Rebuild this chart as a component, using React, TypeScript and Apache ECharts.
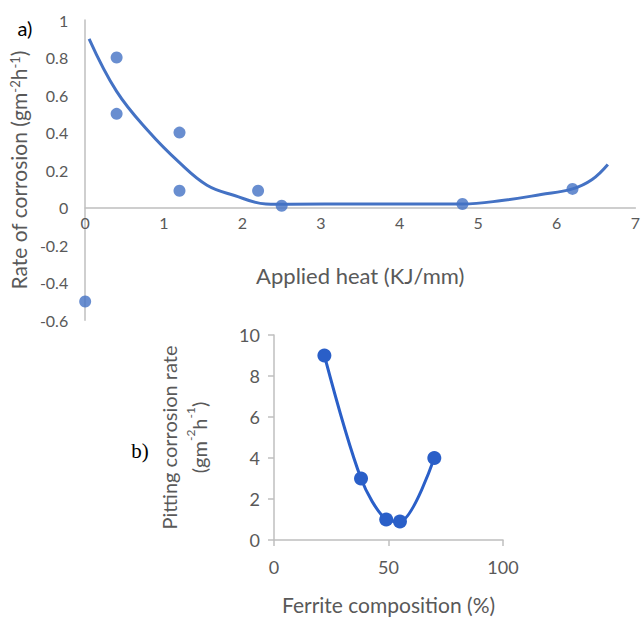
import React, { useEffect, useRef } from "react";
import * as echarts from "echarts";

// Chart a) measured points
const heatPoints: number[][] = [
  [0, -0.5],
  [0.4, 0.8],
  [0.4, 0.5],
  [1.2, 0.4],
  [1.2, 0.09],
  [2.2, 0.09],
  [2.5, 0.01],
  [4.8, 0.02],
  [6.2, 0.1],
];
// Chart a) fitted trend curve (read from picture)
const heatCurve: number[][] = [
  [0.05, 0.9],
  [0.4, 0.62],
  [0.8, 0.41],
  [1.2, 0.24],
  [1.55, 0.12],
  [1.9, 0.065],
  [2.3, 0.02],
  [2.6, 0.018],
  [3.5, 0.02],
  [4.8, 0.02],
  [5.3, 0.038],
  [5.8, 0.07],
  [6.2, 0.1],
  [6.45, 0.15],
  [6.65, 0.23],
];
// Chart b)
const ferrite: number[] = [22, 38, 49, 55, 70];
const pitting: number[] = [9, 3, 1, 0.9, 4];

const FONT = "Lato";
const GREY = "#595959";
const AXIS = "#bfbfbf";

const TOP_H = 300.3;
const Y_MIN = -0.6;
const Y_MAX = 1;

export default function App() {
  const ref = useRef<HTMLDivElement>(null);
  useEffect(() => {
    const chart = echarts.init(ref.current!, null, { renderer: "svg" });
    const sup = { fontSize: 13, lineHeight: 13, verticalAlign: "top", color: GREY, fontFamily: FONT };
    // shift the x axis of chart a) up to the y = 0 line
    const zeroOffset = -(TOP_H * (0 - Y_MIN)) / (Y_MAX - Y_MIN);
    chart.setOption({
      animation: false,
      textStyle: { fontFamily: FONT },
      grid: [
        { left: 85, top: 20, width: 554, height: TOP_H },
        { left: 274, top: 335, width: 229, height: 205 },
      ],
      xAxis: [
        {
          gridIndex: 0,
          type: "value",
          min: 0,
          max: 7,
          interval: 1,
          offset: zeroOffset,
          axisLine: { show: true, onZero: false, lineStyle: { color: AXIS, width: 1.5 } },
          axisTick: { show: false },
          splitLine: { show: false },
          axisLabel: { color: GREY, fontSize: 16, margin: 7, fontFamily: FONT },
          name: "Applied heat (KJ/mm)",
          nameLocation: "middle",
          nameGap: 57,
          nameTextStyle: { color: GREY, fontSize: 22, fontFamily: FONT },
        },
        {
          gridIndex: 1,
          type: "value",
          min: 0,
          max: 100,
          interval: 50,
          axisLine: { show: true, lineStyle: { color: AXIS, width: 1.5 } },
          axisTick: { show: true, length: 6, lineStyle: { color: AXIS, width: 1.5 } },
          splitLine: { show: false },
          axisLabel: { color: GREY, fontSize: 18, margin: 18, fontFamily: FONT },
          name: "Ferrite composition (%)",
          nameLocation: "middle",
          nameGap: 54,
          nameTextStyle: { color: GREY, fontSize: 21, fontFamily: FONT },
        },
      ],
      yAxis: [
        {
          gridIndex: 0,
          type: "value",
          min: Y_MIN,
          max: Y_MAX,
          interval: 0.2,
          axisLine: { show: true, onZero: false, lineStyle: { color: AXIS, width: 1.5 } },
          axisTick: { show: false },
          splitLine: { show: false },
          axisLabel: {
            color: GREY,
            fontSize: 16,
            margin: 17,
            fontFamily: FONT,
            formatter: (v: number) => String(Math.round(v * 10) / 10),
          },
          name: "{n|Rate of corrosion (gm}{s|-2}{n|h}{s|-1}{n|)}",
          nameLocation: "middle",
          nameRotate: 90,
          nameGap: 52,
          nameTextStyle: {
            color: GREY,
            fontSize: 21,
            rich: { n: { fontSize: 21, color: GREY, fontFamily: FONT }, s: sup },
          },
        },
        {
          gridIndex: 1,
          type: "value",
          min: 0,
          max: 10,
          interval: 2,
          axisLine: { show: true, lineStyle: { color: AXIS, width: 1.5 } },
          axisTick: { show: true, length: 6, lineStyle: { color: AXIS, width: 1.5 } },
          splitLine: { show: false },
          axisLabel: { color: GREY, fontSize: 18, margin: 14, fontFamily: FONT },
          name: "{n|Pitting corrosion rate}\n{n|(gm}{s|-2}{n|h}{s|-1}{n|)}",
          nameLocation: "middle",
          nameRotate: 90,
          nameGap: 60,
          nameTextStyle: {
            color: GREY,
            fontSize: 20,
            align: "center",
            rich: {
              n: { fontSize: 20, lineHeight: 30, color: GREY, fontFamily: FONT },
              s: { fontSize: 12, lineHeight: 16, verticalAlign: "top", color: GREY, fontFamily: FONT },
            },
          },
        },
      ],
      series: [
        {
          type: "line",
          xAxisIndex: 0,
          yAxisIndex: 0,
          data: heatCurve,
          smooth: 0.4,
          showSymbol: false,
          lineStyle: { color: "#4472c4", width: 3 },
          z: 2,
        },
        {
          type: "scatter",
          xAxisIndex: 0,
          yAxisIndex: 0,
          data: heatPoints,
          symbolSize: 12,
          itemStyle: { color: "#4472c4" },
          z: 3,
        },
        {
          type: "line",
          xAxisIndex: 1,
          yAxisIndex: 1,
          data: ferrite.map((x, i) => [x, pitting[i]]),
          smooth: 0.3,
          symbol: "circle",
          symbolSize: 14,
          lineStyle: { color: "#2a5fc8", width: 3 },
          itemStyle: { color: "#2a5fc8" },
        },
      ],
      graphic: [
        {
          type: "text",
          x: 25,
          y: 28,
          style: { text: "a)", fontSize: 20, fontFamily: FONT, fill: "#000", align: "center", verticalAlign: "middle" },
        },
        {
          type: "text",
          x: 140,
          y: 451,
          style: { text: "b)", fontSize: 21, fontFamily: "Liberation Serif", fill: "#000", align: "center", verticalAlign: "middle" },
        },
      ],
    });
    return () => chart.dispose();
  }, []);
  return <div ref={ref} style={{ width: 643, height: 617, position: "absolute", left: 0, top: 0 }} />;
}
